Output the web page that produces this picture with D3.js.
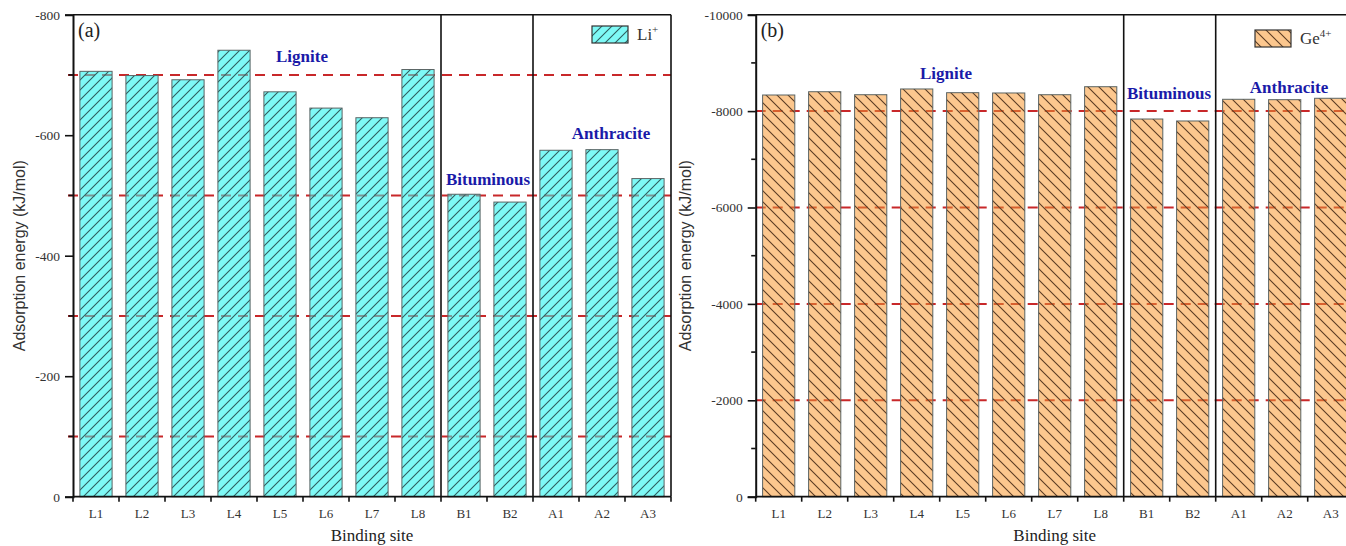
<!DOCTYPE html>
<html>
<head>
<meta charset="utf-8">
<script src="https://cdn.jsdelivr.net/npm/d3@7"></script>
<style>
  html, body { margin: 0; padding: 0; background: #fff; }
  svg { display: block; }
</style>
</head>
<body>
<svg id="chart" width="1346" height="546"></svg>
<script>
// ---------- data ----------
const sites = ["L1","L2","L3","L4","L5","L6","L7","L8","B1","B2","A1","A2","A3"];
const liEnergy = [-706,-699,-692,-741,-672,-645,-629,-709,-502,-489,-575,-576,-528];
const geEnergy = [-8334,-8402,-8340,-8459,-8382,-8376,-8340,-8506,-7836,-7795,-8245,-8237,-8266];
const liMajorTicks = [0,-200,-400,-600,-800];
const liGridLines = [-100,-300,-500,-700];
const geMajorTicks = [0,-2000,-4000,-6000,-8000,-10000];
const geMinorTicks = [-1000,-3000,-5000,-7000,-9000];
const geGridLines = [-2000,-4000,-6000,-8000];
const groupNames = ["Lignite","Bituminous","Anthracite"];
const groupBreaks = [8,10]; // category index where a new coal group starts

const svg = d3.select("#chart");
const defs = svg.append("defs");

function hatch(id, dir, color, s) {
  const p = defs.append("pattern").attr("id", id)
    .attr("patternUnits","userSpaceOnUse").attr("width",s).attr("height",s);
  const d = dir > 0
    ? `M-2,2 L2,-2 M0,${s} L${s},0 M${s-2},${s+2} L${s+2},${s-2}`
    : `M-2,${s-2} L2,${s+2} M0,0 L${s},${s} M${s-2},-2 L${s+2},2`;
  p.append("path").attr("d", d)
    .attr("stroke",color).attr("stroke-width",1.1).attr("fill","none");
}
hatch("hatchA", 1, "#2f5d5e", 10);
hatch("hatchB", -1, "#5b3b22", 11);

function panel(opt) {
  const g = svg.append("g");
  const x = d3.scaleBand().domain(sites).range([opt.x0, opt.x1])
    .paddingInner(0.3).paddingOuter(0.15);
  const y = d3.scaleLinear().domain([0, opt.yMin]).range([opt.yBottom, opt.yTop]);
  const step = x.step();
  const data = opt.values.map((v,i)=>({s:sites[i], v}));

  // grid dashed lines (behind bars)
  g.selectAll(".grid").data(opt.grid).join("line")
    .attr("x1", opt.gridStart).attr("x2", opt.x1)
    .attr("y1", d => y(d)).attr("y2", d => y(d))
    .attr("stroke", "#c8282a").attr("stroke-width", 2)
    .attr("stroke-dasharray", "10,7");

  // bars
  g.selectAll(".barf").data(data).join("rect")
    .attr("x", d => x(d.s)).attr("width", x.bandwidth())
    .attr("y", d => y(d.v)).attr("height", d => y(0) - y(d.v))
    .attr("fill", opt.fill);

  // grid seen through bars
  const clipId = "clip" + opt.letter.replace(/\W/g,"");
  defs.append("clipPath").attr("id", clipId).selectAll("rect").data(data).join("rect")
    .attr("x", d => x(d.s)).attr("width", x.bandwidth())
    .attr("y", d => y(d.v)).attr("height", d => y(0) - y(d.v));
  g.append("g").attr("clip-path", `url(#${clipId})`)
    .selectAll("line").data(opt.grid).join("line")
    .attr("x1", opt.gridStart).attr("x2", opt.x1)
    .attr("y1", d => y(d)).attr("y2", d => y(d))
    .attr("stroke", opt.gridOver).attr("stroke-width", 2)
    .attr("stroke-dasharray", "10,7");

  g.selectAll(".barh").data(data).join("rect")
    .attr("x", d => x(d.s)).attr("width", x.bandwidth())
    .attr("y", d => y(d.v)).attr("height", d => y(0) - y(d.v))
    .attr("fill", `url(#${opt.hatch})`)
    .attr("stroke", "#5a6464").attr("stroke-width", 1);

  // group separators
  g.selectAll(".sep").data(groupBreaks).join("line")
    .attr("x1", d => opt.x0 + d*step).attr("x2", d => opt.x0 + d*step)
    .attr("y1", opt.yTop).attr("y2", opt.yBottom)
    .attr("stroke", "#111").attr("stroke-width", 1.6);

  // frame: top and right
  g.append("line").attr("x1", opt.x0).attr("x2", opt.x1)
    .attr("y1", opt.yTop).attr("y2", opt.yTop)
    .attr("stroke", "#111").attr("stroke-width", 1.6);
  g.append("line").attr("x1", opt.x1).attr("x2", opt.x1)
    .attr("y1", opt.yTop).attr("y2", opt.yBottom)
    .attr("stroke", "#111").attr("stroke-width", 1.6);

  // y axis
  const yAxis = d3.axisLeft(y).tickValues(opt.major).tickSize(8).tickPadding(5)
    .tickFormat(d => d === 0 ? "0" : "-" + Math.abs(d));
  const ya = g.append("g").attr("transform", `translate(${opt.x0},0)`).call(yAxis);
  ya.select(".domain").attr("stroke", "#111").attr("stroke-width", 2);
  ya.selectAll(".tick line").attr("stroke", "#111").attr("stroke-width", 1.6);
  ya.selectAll(".tick text").attr("font-family", "Liberation Serif")
    .attr("font-size", 13.5).attr("fill", "#333");
  // minor ticks
  g.selectAll(".minor").data(opt.minor).join("line")
    .attr("x1", opt.x0 - 4.5).attr("x2", opt.x0)
    .attr("y1", d => y(d)).attr("y2", d => y(d))
    .attr("stroke", "#111").attr("stroke-width", 1.6);

  // x axis: ticks at category boundaries
  g.append("line").attr("x1", opt.x0).attr("x2", opt.x1)
    .attr("y1", opt.yBottom).attr("y2", opt.yBottom)
    .attr("stroke", "#111").attr("stroke-width", 1.8);
  g.selectAll(".xt").data(d3.range(sites.length + 1)).join("line")
    .attr("x1", i => opt.x0 + i*step).attr("x2", i => opt.x0 + i*step)
    .attr("y1", opt.yBottom).attr("y2", opt.yBottom + 5)
    .attr("stroke", "#111").attr("stroke-width", 1.6);
  g.selectAll(".xl").data(sites).join("text")
    .attr("x", d => x(d) + x.bandwidth()/2).attr("y", opt.yBottom + 21)
    .attr("text-anchor", "middle").attr("font-family", "Liberation Serif")
    .attr("font-size", 13).attr("fill", "#333").text(d => d);

  // axis titles
  g.append("text").attr("x", (opt.x0 + opt.x1)/2).attr("y", 541)
    .attr("text-anchor", "middle").attr("font-family", "Liberation Serif")
    .attr("font-size", 17).attr("fill", "#222").text("Binding site");
  g.append("text")
    .attr("transform", `translate(${opt.titleX},${(opt.yTop+opt.yBottom)/2}) rotate(-90)`)
    .attr("text-anchor", "middle").attr("font-family", "Liberation Sans")
    .attr("font-size", 16).attr("fill", "#333").text("Adsorption energy (kJ/mol)");

  // panel letter
  g.append("text").attr("x", opt.x0 + 5).attr("y", opt.yTop + 22)
    .attr("font-family", "Liberation Serif").attr("font-size", 20)
    .attr("fill", "#222").text(opt.letter);

  // group labels
  groupNames.forEach((name, i) => {
    g.append("text").attr("x", opt.labels[i][0]).attr("y", opt.labels[i][1])
      .attr("text-anchor", "middle").attr("font-family", "Liberation Serif")
      .attr("font-weight", "bold").attr("font-size", 17)
      .attr("fill", "#1a1aa8").text(name);
  });

  // legend
  const lg = g.append("g").attr("transform", `translate(${opt.legend[0]},${opt.legend[1]})`);
  lg.append("rect").attr("width", 36).attr("height", 17).attr("fill", opt.fill);
  lg.append("rect").attr("width", 36).attr("height", 17)
    .attr("fill", `url(#${opt.hatch})`).attr("stroke", "#333").attr("stroke-width", 1.2);
  const lt = lg.append("text").attr("x", 45).attr("y", 14)
    .attr("font-family", "Liberation Serif").attr("font-size", 17).attr("fill", "#333");
  lt.append("tspan").text(opt.ion);
  lt.append("tspan").attr("dy", -7).attr("font-size", 11).text(opt.charge);
}

panel({
  x0: 73, x1: 671, yTop: 14.7, yBottom: 496.7, yMin: -800,
  values: liEnergy, major: liMajorTicks, minor: liGridLines, grid: liGridLines,
  gridStart: 68, fill: "#7ef9f6", gridOver: "#7c9696", hatch: "hatchA",
  titleX: 25, letter: "(a)",
  labels: [[302, 62], [488, 185], [611, 139]],
  legend: [592, 26], ion: "Li", charge: "+"
});

panel({
  x0: 755.7, x1: 1353.7, yTop: 14.7, yBottom: 496.7, yMin: -10000,
  values: geEnergy, major: geMajorTicks, minor: geMinorTicks, grid: geGridLines,
  gridStart: 755.7, fill: "#fcc78e", gridOver: "#d8602e", hatch: "hatchB",
  titleX: 691, letter: "(b)",
  labels: [[946, 79], [1169, 99], [1289, 93]],
  legend: [1255, 30], ion: "Ge", charge: "4+"
});
</script>
</body>
</html>
